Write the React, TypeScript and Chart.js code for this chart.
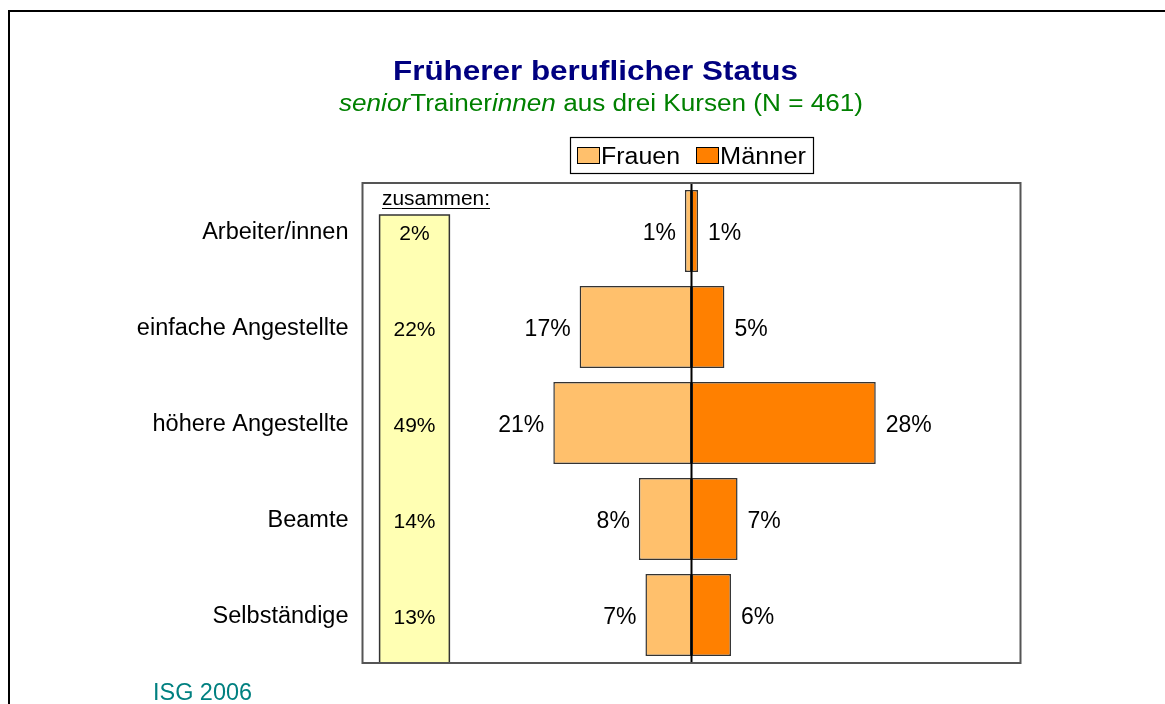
import React, { useEffect, useRef } from "react";
import { Chart, registerables } from "chart.js";

Chart.register(...registerables);

const categories = ["Arbeiter/innen", "einfache Angestellte", "höhere Angestellte", "Beamte", "Selbständige"];
const frauen = [1, 17, 21, 8, 7];
const maenner = [1, 5, 28, 7, 6];
const zusammen = [2, 22, 49, 14, 13];
const zusammenRange = [-47.4, -36.8];

const FONT = "'Liberation Sans', Arial, sans-serif";
const C_FRAUEN = "#FFC06C";
const C_MAENNER = "#FF8000";
const C_YELLOW = "#FFFFB3";
const C_BORDER = "#333333";

function fitText(ctx: CanvasRenderingContext2D, text: string, x: number, y: number, width: number, font: string, color: string) {
  ctx.save();
  ctx.font = font;
  ctx.fillStyle = color;
  ctx.textAlign = "left";
  ctx.textBaseline = "alphabetic";
  const w = ctx.measureText(text).width;
  ctx.translate(x, y);
  ctx.scale(width / w, 1);
  ctx.fillText(text, 0, 0);
  ctx.restore();
}

const decorPlugin = {
  id: "decor",
  beforeDatasetsDraw(chart: any) {
    const { ctx, chartArea, scales } = chart;
    const xs = scales.x;
    const ys = scales.y;
    const x0 = xs.getPixelForValue(zusammenRange[0]);
    const x1 = xs.getPixelForValue(zusammenRange[1]);
    const top = chartArea.top + 32;
    ctx.save();
    ctx.fillStyle = C_YELLOW;
    ctx.fillRect(x0, top, x1 - x0, chartArea.bottom - top);
    ctx.strokeStyle = C_BORDER;
    ctx.lineWidth = 1.5;
    ctx.strokeRect(x0, top, x1 - x0, chartArea.bottom - top);
    ctx.font = `21px ${FONT}`;
    ctx.fillStyle = "#000";
    ctx.textAlign = "center";
    ctx.textBaseline = "alphabetic";
    zusammen.forEach((v, i) => {
      ctx.fillText(`${v}%`, (x0 + x1) / 2, ys.getPixelForValue(i) + 8.5);
    });
    ctx.restore();
    fitText(ctx, "zusammen:", 382, 205, 108, `20px ${FONT}`, "#000");
    ctx.save();
    ctx.strokeStyle = "#000";
    ctx.lineWidth = 1;
    ctx.beginPath();
    ctx.moveTo(382, 208.5);
    ctx.lineTo(490, 208.5);
    ctx.stroke();
    ctx.restore();
  },
  afterDatasetsDraw(chart: any) {
    const { ctx, chartArea, scales } = chart;
    const xs = scales.x;
    ctx.save();
    ctx.font = `23px ${FONT}`;
    ctx.fillStyle = "#000";
    ctx.textBaseline = "alphabetic";
    chart.data.datasets.forEach((ds: any, di: number) => {
      const meta = chart.getDatasetMeta(di);
      meta.data.forEach((el: any, i: number) => {
        const v = Math.abs(ds.data[i]);
        const y = el.y + 9;
        if (ds.data[i] < 0) {
          ctx.textAlign = "right";
          ctx.fillText(`${v}%`, Math.min(el.x, el.base) - 9, y);
        } else {
          ctx.textAlign = "left";
          ctx.fillText(`${v}%`, Math.max(el.x, el.base) + 10, y);
        }
      });
    });
    ctx.restore();
    const cx = xs.getPixelForValue(0);
    ctx.save();
    ctx.strokeStyle = "#000";
    ctx.lineWidth = 2;
    ctx.beginPath();
    ctx.moveTo(cx, chartArea.top);
    ctx.lineTo(cx, chartArea.bottom);
    ctx.stroke();
    ctx.strokeStyle = "#555";
    ctx.lineWidth = 2;
    ctx.strokeRect(chartArea.left, chartArea.top, chartArea.right - chartArea.left, chartArea.bottom - chartArea.top);
    ctx.restore();
  },
  afterDraw(chart: any) {
    const { ctx } = chart;
    ctx.save();
    ctx.strokeStyle = "#000";
    ctx.lineWidth = 2;
    ctx.beginPath();
    ctx.moveTo(9, 704);
    ctx.lineTo(9, 11);
    ctx.lineTo(1165, 11);
    ctx.stroke();
    ctx.restore();
    fitText(ctx, "Früherer beruflicher Status", 393, 79.5, 405, `bold 28px ${FONT}`, "#000080");
    const segs: [string, boolean][] = [
      ["senior", true],
      ["Trainer", false],
      ["innen", true],
      [" aus drei Kursen (N = 461)", false],
    ];
    ctx.save();
    let total = 0;
    const widths = segs.map(([t, it]) => {
      ctx.font = `${it ? "italic " : ""}23px ${FONT}`;
      const w = ctx.measureText(t).width;
      total += w;
      return w;
    });
    const s = 524 / total;
    ctx.translate(339, 110.5);
    ctx.scale(s, 1);
    ctx.fillStyle = "#008000";
    ctx.textBaseline = "alphabetic";
    ctx.textAlign = "left";
    let off = 0;
    segs.forEach(([t, it], i) => {
      ctx.font = `${it ? "italic " : ""}23px ${FONT}`;
      ctx.fillText(t, off, 0);
      off += widths[i];
    });
    ctx.restore();
    ctx.save();
    ctx.fillStyle = "#fff";
    ctx.fillRect(570.5, 137.5, 243, 36);
    ctx.strokeStyle = "#000";
    ctx.lineWidth = 1.2;
    ctx.strokeRect(570.5, 137.5, 243, 36);
    const items = [
      { label: chart.data.datasets[0].label, color: C_FRAUEN, sx: 577, tx: 601, tw: 79 },
      { label: chart.data.datasets[1].label, color: C_MAENNER, sx: 696, tx: 720, tw: 86 },
    ];
    items.forEach((it) => {
      ctx.fillStyle = it.color;
      ctx.fillRect(it.sx + 0.5, 147.5, 22, 16);
      ctx.strokeStyle = "#000";
      ctx.lineWidth = 1;
      ctx.strokeRect(it.sx + 0.5, 147.5, 22, 16);
    });
    ctx.restore();
    items.forEach((it) => fitText(ctx, it.label, it.tx, 163.5, it.tw, `23px ${FONT}`, "#000"));
    fitText(ctx, "ISG 2006", 153, 700, 99, `23px ${FONT}`, "#008080");
  },
};

export default function App() {
  const ref = useRef<HTMLCanvasElement | null>(null);
  useEffect(() => {
    document.body.style.margin = "0";
    document.body.style.overflow = "hidden";
    const canvas = ref.current!;
    const chart = new Chart(canvas, {
      type: "bar",
      data: {
        labels: categories,
        datasets: [
          {
            label: "Frauen",
            data: frauen.map((v) => -v),
            backgroundColor: C_FRAUEN,
            borderColor: C_BORDER,
            borderWidth: 1.5,
            borderSkipped: false,
            barPercentage: 0.854,
            categoryPercentage: 1,
          },
          {
            label: "Männer",
            data: maenner,
            backgroundColor: C_MAENNER,
            borderColor: C_BORDER,
            borderWidth: 1.5,
            borderSkipped: false,
            barPercentage: 0.854,
            categoryPercentage: 1,
          },
        ],
      },
      options: {
        indexAxis: "y",
        animation: false,
        responsive: false,
        maintainAspectRatio: false,
        layout: { padding: { top: 183, bottom: 41, left: 0, right: 144.5 } },
        plugins: {
          legend: { display: false },
          title: { display: false },
          tooltip: { enabled: false },
        },
        scales: {
          x: {
            stacked: true,
            min: -50,
            max: 50,
            display: false,
          },
          y: {
            stacked: true,
            grid: { display: false, drawTicks: false },
            border: { display: false },
            ticks: {
              color: "#000",
              padding: 14,
              labelOffset: 2,
              font: { family: FONT, size: 23.5 },
            },
            afterFit: (scale: any) => {
              scale.width = 362.5;
            },
          },
        },
      },
      plugins: [decorPlugin],
    });
    return () => chart.destroy();
  }, []);
  return (
    <div style={{ width: 1165, height: 704, background: "#fff" }}>
      <canvas ref={ref} width={1165} height={704} style={{ display: "block" }} />
    </div>
  );
}
